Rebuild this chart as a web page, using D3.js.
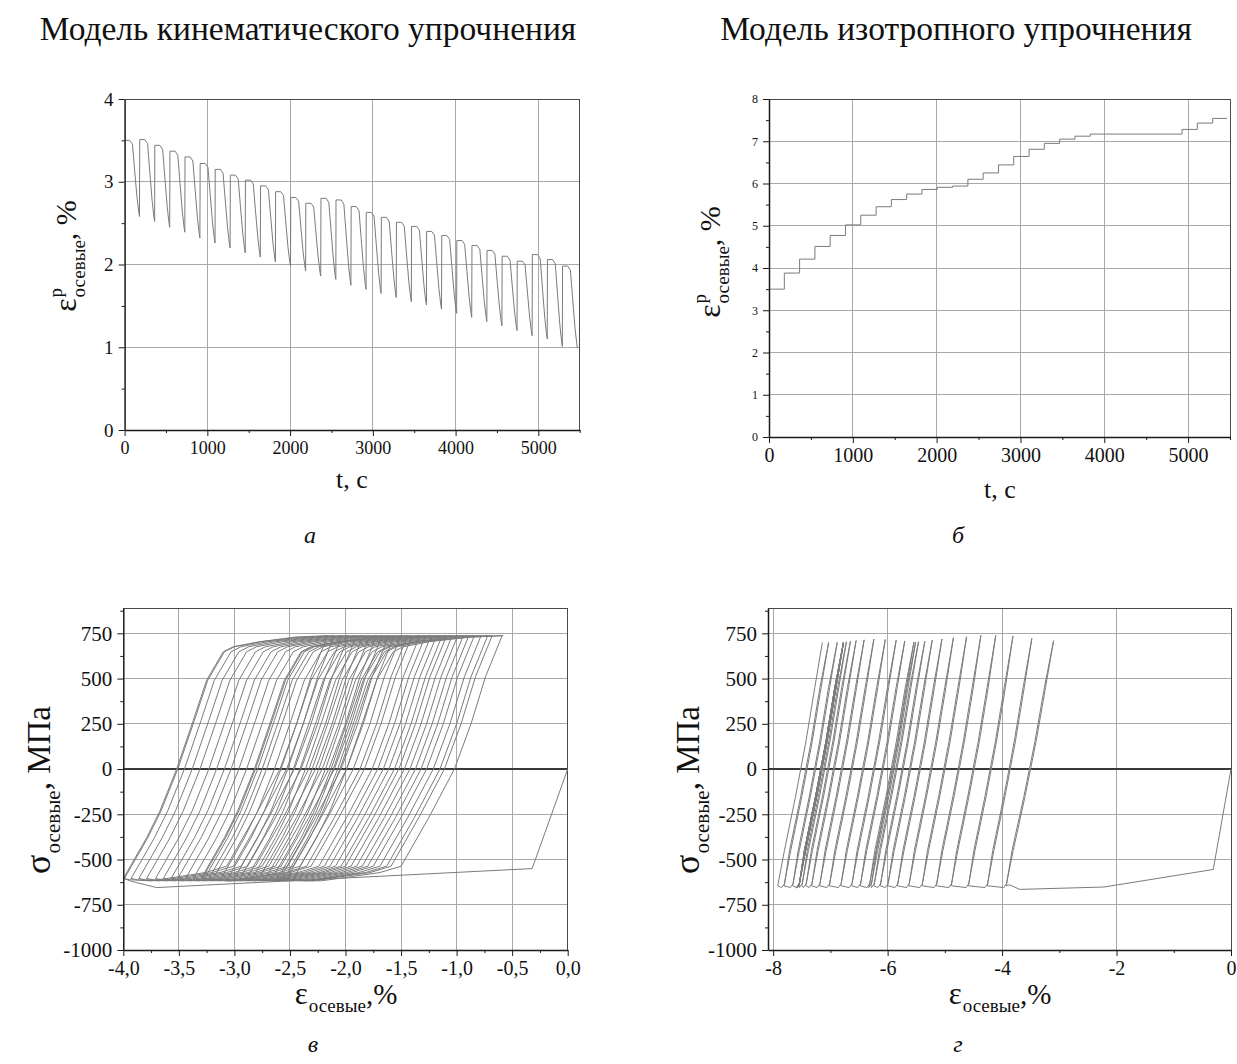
<!DOCTYPE html>
<html>
<head>
<meta charset="utf-8">
<script src="https://cdn.jsdelivr.net/npm/d3@7"></script>
<style>
body { margin: 0; background: #fff; }
text { font-family: "Liberation Serif", "Times New Roman", serif; fill: #111; }
</style>
</head>
<body>
<script>
// cycle timing shared by both time plots (s)
var CYCLE_START = [0, 183, 365, 548, 730, 913, 1095, 1278, 1460, 1643, 1825, 2008, 2190, 2373, 2555,
                   2738, 2920, 3103, 3285, 3468, 3650, 3833, 4015, 4198, 4380, 4563, 4745, 4928, 5110, 5293];

// (a) kinematic model: plastic strain at start of each cycle and at its dip, %
var KIN_PEAK = [3.50, 3.51, 3.44, 3.37, 3.30, 3.22, 3.15, 3.08, 3.02, 2.95, 2.88, 2.81, 2.74, 2.80, 2.78,
                2.70, 2.63, 2.57, 2.51, 2.46, 2.40, 2.35, 2.29, 2.23, 2.17, 2.10, 2.04, 2.12, 2.06, 1.98];
var KIN_DIP = [2.58, 2.52, 2.45, 2.39, 2.32, 2.26, 2.20, 2.14, 2.09, 2.03, 1.98, 1.92, 1.86, 1.82, 1.75,
               1.70, 1.65, 1.60, 1.55, 1.51, 1.46, 1.41, 1.36, 1.31, 1.26, 1.20, 1.14, 1.10, 1.01, 0.99];

// (б) isotropic model: plastic strain level per cycle, %
var ISO_LEVEL = [3.50, 3.88, 4.21, 4.51, 4.77, 5.02, 5.25, 5.45, 5.62, 5.75, 5.86, 5.91, 5.94, 6.10, 6.25,
                 6.44, 6.64, 6.81, 6.95, 7.05, 7.12, 7.17, 7.17, 7.17, 7.17, 7.17, 7.17, 7.28, 7.43, 7.54];
var ISO_END = 5465;

// (в) kinematic loops: strain at compressive valley and at tensile peak of each cycle, %
var KIN_VALLEY = [-3.99, -4.00, -3.93, -3.86, -3.79, -3.71, -3.64, -3.57, -3.51, -3.44, -3.37, -3.30, -3.23, -3.29, -3.27,
                  -3.19, -3.12, -3.06, -3.00, -2.95, -2.89, -2.84, -2.78, -2.72, -2.66, -2.59, -2.53, -2.61, -2.55, -2.47];
var KIN_TOP = [-2.16, -2.10, -2.03, -1.97, -1.90, -1.84, -1.78, -1.72, -1.67, -1.61, -1.56, -1.50, -1.44, -1.40, -1.33,
               -1.28, -1.23, -1.18, -1.13, -1.09, -1.04, -0.99, -0.94, -0.89, -0.84, -0.78, -0.72, -0.68, -0.59, -0.58];
var KIN_START = [[0, 0], [-0.32, -550], [-3.70, -655], [-3.93, -620]];

// (г) isotropic loops: strain at bottom and top of each elastic line, %, and peak stress, MPa
var ISO_BOT = [-3.93, -4.26, -4.59, -4.89, -5.15, -5.40, -5.63, -5.83, -6.00, -6.13, -6.24, -6.29, -6.32, -6.48, -6.63,
               -6.82, -7.02, -7.19, -7.33, -7.43, -7.50, -7.55, -7.55, -7.55, -7.55, -7.55, -7.55, -7.66, -7.81, -7.92];
var ISO_TOP = [-3.10, -3.48, -3.81, -4.11, -4.37, -4.62, -4.85, -5.05, -5.22, -5.35, -5.46, -5.51, -5.54, -5.70, -5.85,
               -6.04, -6.24, -6.41, -6.55, -6.65, -6.72, -6.77, -6.77, -6.77, -6.77, -6.77, -6.77, -6.88, -7.03, -7.14];
var ISO_PEAK = [709, 722, 735, 739, 739, 731, 726, 719, 713, 706, 704, 702, 702, 708, 712,
                716, 718, 714, 710, 706, 703, 701, 701, 701, 701, 701, 701, 700, 700, 700];
var ISO_START = [[0, 0], [-0.31, -555], [-2.22, -652], [-3.69, -665], [-3.87, -640]];

var TIME_TICKS = [0, 1000, 2000, 3000, 4000, 5000];
var TIME_MINOR = [500, 1500, 2500, 3500, 4500, 5500];
var STRESS_TICKS = [-1000, -750, -500, -250, 0, 250, 500, 750];
var STRESS_MINOR = [-875, -625, -375, -125, 125, 375, 625, 875];

var CURVE = "#7b7b7b", GRID = "#a8a8a8", AXIS = "#1a1a1a";

var svg = d3.select("body").append("svg")
    .attr("width", 1237)
    .attr("height", 1064);

function panel(o) {
    var g = svg.append("g");
    var x = d3.scaleLinear().domain(o.xDomain).range(o.xRange);
    var y = d3.scaleLinear().domain(o.yDomain).range(o.yRange);
    var x0 = o.xRange[0], x1 = o.xRange[1], y0 = o.yRange[0], y1 = o.yRange[1];

    g.append("g").selectAll("line").data(o.xGrid).join("line")
        .attr("x1", function(d) { return x(d); }).attr("x2", function(d) { return x(d); })
        .attr("y1", y0).attr("y2", y1)
        .attr("stroke", GRID).attr("shape-rendering", "crispEdges");
    g.append("g").selectAll("line").data(o.yGrid).join("line")
        .attr("x1", x0).attr("x2", x1)
        .attr("y1", function(d) { return y(d); }).attr("y2", function(d) { return y(d); })
        .attr("stroke", function(d) { return (d === 0 && o.zeroLine) ? "#3a3a3a" : GRID; })
        .attr("stroke-width", function(d) { return (d === 0 && o.zeroLine) ? 1.4 : 1; })
        .attr("shape-rendering", "crispEdges");

    g.append("path")
        .attr("d", "M" + x0 + "," + y1 + "H" + x1 + "V" + y0)
        .attr("fill", "none").attr("stroke", "#4a4a4a").attr("shape-rendering", "crispEdges");

    var curves = g.append("g");

    var xa = g.append("g").attr("transform", "translate(0," + y0 + ")")
        .call(d3.axisBottom(x).tickValues(o.xTicks).tickFormat(o.xFmt).tickSize(6).tickSizeOuter(0).tickPadding(5));
    g.append("g").attr("transform", "translate(0," + y0 + ")")
        .call(d3.axisBottom(x).tickValues(o.xMinor).tickFormat("").tickSize(3))
        .select(".domain").remove();
    var ya = g.append("g").attr("transform", "translate(" + x0 + ",0)")
        .call(d3.axisLeft(y).tickValues(o.yTicks).tickFormat(o.yFmt).tickSize(6).tickSizeOuter(0).tickPadding(5));
    g.append("g").attr("transform", "translate(" + x0 + ",0)")
        .call(d3.axisLeft(y).tickValues(o.yMinor).tickFormat("").tickSize(3))
        .select(".domain").remove();

    g.selectAll(".tick line").attr("stroke", AXIS);
    g.selectAll(".domain").attr("stroke", AXIS).attr("stroke-width", 1.5);
    xa.selectAll("text").style("font-size", o.xFont + "px").attr("fill", "#111")
        .style("font-family", "'Liberation Serif', serif");
    ya.selectAll("text").style("font-size", o.yFont + "px").attr("fill", "#111")
        .style("font-family", "'Liberation Serif', serif");

    return { g: curves, x: x, y: y };
}

function drawLine(p, pts) {
    var line = d3.line().x(function(d) { return p.x(d[0]); }).y(function(d) { return p.y(d[1]); });
    p.g.append("path").attr("d", line(pts))
        .attr("fill", "none").attr("stroke", CURVE).attr("stroke-width", 1)
        .attr("stroke-linejoin", "round");
}

// composite label: base symbol with super/subscript and a tail
function symLabel(x, y, rot, base, baseSize, sup, sub, small, tail, tailSize) {
    var g = svg.append("g").attr("transform", "translate(" + x + "," + y + ") rotate(" + rot + ")");
    var inner = g.append("g");
    var b = inner.append("text").attr("x", 0).attr("y", 0).style("font-size", baseSize + "px").text(base);
    var bw = b.node().getComputedTextLength() + 1;
    var w2 = 0;
    if (sup) {
        var s1 = inner.append("text").attr("x", bw).attr("y", -baseSize * 0.45).style("font-size", small + "px").text(sup);
        w2 = Math.max(w2, s1.node().getComputedTextLength());
    }
    if (sub) {
        var s2 = inner.append("text").attr("x", bw).attr("y", baseSize * 0.27).style("font-size", small + "px").text(sub);
        w2 = Math.max(w2, s2.node().getComputedTextLength());
    }
    var tl = inner.append("text").attr("x", bw + w2).attr("y", 0).style("font-size", tailSize + "px").text(tail);
    var total = bw + w2 + tl.node().getComputedTextLength();
    inner.attr("transform", "translate(" + (-total / 2) + ",0)");
}

function plainText(x, y, txt, size, italic) {
    svg.append("text").attr("x", x).attr("y", y).attr("text-anchor", "middle")
        .style("font-size", size + "px").style("font-style", italic ? "italic" : "normal").text(txt);
}

var commaFmt = function(d) { return d.toFixed(1).replace(".", ","); };
var intFmt = function(d) { return String(d); };

// ---------- (a) ----------
var pa = panel({
    xDomain: [0, 5500], xRange: [124.6, 579.7],
    yDomain: [0, 4], yRange: [430, 99],
    xGrid: [1000, 2000, 3000, 4000, 5000], yGrid: [1, 2, 3],
    xTicks: TIME_TICKS, xMinor: TIME_MINOR, xFmt: intFmt, xFont: 18,
    yTicks: [0, 1, 2, 3, 4], yMinor: [0.5, 1.5, 2.5, 3.5], yFmt: intFmt, yFont: 19
});
// drop profile of one cycle: [time offset, fraction of peak-to-dip drop]
var DROP_SHAPE = [[0, 0], [62, 0], [95, 0.05], [122, 0.4], [150, 0.75], [172, 0.95], [180, 1]];
var aPts = [];
CYCLE_START.forEach(function(t0, k) {
    DROP_SHAPE.forEach(function(s) {
        aPts.push([t0 + s[0], KIN_PEAK[k] - s[1] * (KIN_PEAK[k] - KIN_DIP[k])]);
    });
});
drawLine(pa, aPts);

// ---------- (б) ----------
var pb = panel({
    xDomain: [0, 5500], xRange: [769, 1230],
    yDomain: [0, 8], yRange: [437, 99],
    xGrid: [1000, 2000, 3000, 4000, 5000], yGrid: [1, 2, 3, 4, 5, 6, 7],
    xTicks: TIME_TICKS, xMinor: TIME_MINOR, xFmt: intFmt, xFont: 20,
    yTicks: [0, 1, 2, 3, 4, 5, 6, 7, 8], yMinor: [0.5, 1.5, 2.5, 3.5, 4.5, 5.5, 6.5, 7.5], yFmt: intFmt, yFont: 12
});
var bPts = CYCLE_START.map(function(t, k) { return [t, ISO_LEVEL[k]]; });
bPts.push([ISO_END, ISO_LEVEL[ISO_LEVEL.length - 1]]);
pb.g.append("path")
    .attr("d", d3.line().curve(d3.curveStepAfter)
        .x(function(d) { return pb.x(d[0]); }).y(function(d) { return pb.y(d[1]); })(bPts))
    .attr("fill", "none").attr("stroke", CURVE).attr("stroke-width", 1);

// ---------- (в) ----------
var pc = panel({
    xDomain: [-4, 0], xRange: [123.3, 567.7],
    yDomain: [-1000, 890], yRange: [950, 608],
    xGrid: [-3.5, -3, -2.5, -2, -1.5, -1, -0.5], yGrid: [-750, -500, -250, 0, 250, 500, 750], zeroLine: true,
    xTicks: [-4, -3.5, -3, -2.5, -2, -1.5, -1, -0.5, 0], xMinor: [-3.75, -3.25, -2.75, -2.25, -1.75, -1.25, -0.75, -0.25],
    xFmt: commaFmt, xFont: 20,
    yTicks: STRESS_TICKS, yMinor: STRESS_MINOR, yFmt: intFmt, yFont: 21
});
// branch shapes relative to valley / peak strain: [strain offset, stress]
var RISE_KIN = [[0, -605], [0.21, -380], [0.33, -231], [0.48, 0], [0.63, 269], [0.75, 491], [0.90, 648], [0.99, 676], [1.23, 704]];
var FALL_KIN = [[-0.15, 510], [-0.28, 250], [-0.43, 0], [-0.66, -268], [-0.91, -537], [-1.10, -572]];
var cPts = KIN_START.slice();
KIN_VALLEY.forEach(function(xv, k) {
    var xp = KIN_TOP[k];
    RISE_KIN.forEach(function(s) { cPts.push([xv + s[0], s[1]]); });
    cPts.push([xp - 0.3, 729], [xp, 737]);
    if (k < KIN_VALLEY.length - 1) {
        FALL_KIN.forEach(function(s) { cPts.push([xp + s[0], s[1]]); });
        var xn = KIN_VALLEY[k + 1];
        cPts.push([xn + 0.25, -618], [xn + 0.06, -612]);
    }
});
drawLine(pc, cPts);

// ---------- (г) ----------
var pd = panel({
    xDomain: [-8.09, 0], xRange: [768, 1231],
    yDomain: [-1000, 890], yRange: [950, 608],
    xGrid: [-8, -6, -4, -2], yGrid: [-750, -500, -250, 0, 250, 500, 750], zeroLine: true,
    xTicks: [-8, -6, -4, -2, 0], xMinor: [-7, -5, -3, -1], xFmt: intFmt, xFont: 20,
    yTicks: STRESS_TICKS, yMinor: STRESS_MINOR, yFmt: intFmt, yFont: 21
});
// elastic line shape: [fraction of bottom-to-top strain width, stress] (last point uses the cycle peak)
var RISE_ISO = [[0, -645], [0.15, -450], [0.40, -150], [0.63, 150], [0.83, 450]];
var dPts = ISO_START.slice();
ISO_BOT.forEach(function(xb, k) {
    var w = ISO_TOP[k] - xb;
    RISE_ISO.forEach(function(s) { dPts.push([xb + s[0] * w, s[1]]); });
    dPts.push([ISO_TOP[k], ISO_PEAK[k]]);
    if (k < ISO_BOT.length - 1) {
        for (var i = RISE_ISO.length - 1; i >= 1; i--) {
            dPts.push([xb + RISE_ISO[i][0] * w - 0.02, RISE_ISO[i][1]]);
        }
        dPts.push([xb + 0.01, -632], [xb - 0.04, -655]);
    }
});
drawLine(pd, dPts);

// ---------- text ----------
plainText(308, 40, "Модель кинематического упрочнения", 33.5, false);
plainText(956, 40, "Модель изотропного упрочнения", 33.5, false);

plainText(352, 488, "t, c", 26, false);
plainText(1000, 498, "t, c", 26, false);
plainText(310, 543, "а", 24, true);
plainText(958, 543, "б", 24, true);
plainText(313, 1052, "в", 24, true);
plainText(958, 1052, "г", 24, true);

symLabel(76, 256, -90, "ε", 32, "p", "осевые", 19, ", %", 30);
symLabel(720, 262, -90, "ε", 32, "p", "осевые", 19, ", %", 30);
symLabel(50, 790, -90, "σ", 36, null, "осевые", 21, ", МПа", 33);
symLabel(699, 790, -90, "σ", 36, null, "осевые", 21, ", МПа", 33);
symLabel(346, 1004, 0, "ε", 31, null, "осевые", 19, ",%", 29);
symLabel(1000, 1004, 0, "ε", 31, null, "осевые", 19, ",%", 29);
</script>
</body>
</html>
